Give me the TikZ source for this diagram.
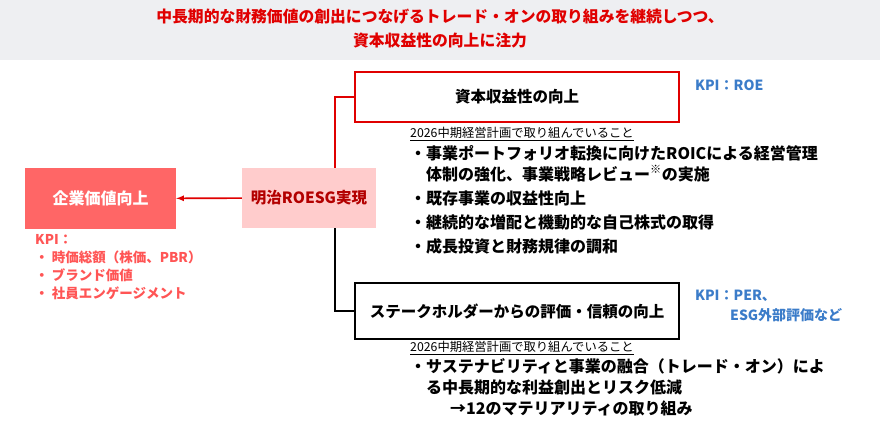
\documentclass[tikz,border=0pt]{standalone}
\usepackage{fontspec}
\setmainfont{Noto Sans CJK JP}
\usepackage{tikz}
\usetikzlibrary{positioning}
\definecolor{titlered}{HTML}{E00000}
\definecolor{valuered}{HTML}{FF6666}
\definecolor{roesgpink}{HTML}{FFCCCC}
\definecolor{kpiblue}{HTML}{3B7CC9}
\definecolor{kpired}{HTML}{FF5555}
\definecolor{bandgray}{HTML}{EEEFF2}
\tikzstyle{goalbox} = [rectangle, line width=1.6pt, minimum width=324pt, minimum height=50pt, font=\fontsize{15.5}{18}\selectfont\bfseries, fill=white]
\tikzstyle{link} = [draw, line width=1.6pt]
\tikzstyle{listtext} = [anchor=north west, align=left, inner sep=0pt, font=\fontsize{16}{21}\selectfont\bfseries]
\tikzstyle{plantext} = [anchor=north west, inner sep=0pt, font=\fontsize{12.3}{14}\selectfont]

\begin{document}
\begin{tikzpicture}[x=1pt, y=-1pt]
    \useasboundingbox (0,0) rectangle (880,431);
    \fill[bandgray] (0,0) rectangle (880,60);
    \node [align=center, text=titlered, font=\fontsize{15.8}{24}\selectfont\bfseries] (title) at (440,29)
        {中長期的な財務価値の創出につなげるトレード・オンの取り組みを継続しつつ、\\資本収益性の向上に注力};

    \node [rectangle, fill=valuered, text=white, minimum width=151pt, minimum height=61pt, font=\fontsize{16}{18}\selectfont\bfseries] (value) at (100.5,198.5) {企業価値向上};
    \node [rectangle, fill=roesgpink, text=titlered!80!black, minimum width=134pt, minimum height=60pt, inner sep=0pt, font=\fontsize{15.5}{18}\selectfont\bfseries] (roesg) at (309,198) {明治ROESG実現};
    \node [goalbox, draw=titlered] (capital) at (517,97) {資本収益性の向上};
    \node [goalbox, draw=black, minimum height=56pt] (trust) at (517,311) {ステークホルダーからの評価・信頼の向上};

    \path [link, titlered, -latex] (roesg) -- (value);
    \path [link, titlered] (roesg.north -| 335,0) |- (capital.west);
    \path [link, black] (roesg.south -| 335,0) |- (trust.west);

    % KPI notes
    \node [anchor=north west, align=left, inner sep=0pt, text=kpired, font=\fontsize{13.5}{18}\selectfont\bfseries] (valuekpi) at (35,234)
        {KPI：\\・ 時価総額（株価、PBR）\\・ ブランド価値\\・ 社員エンゲージメント};
    \node [anchor=west, inner sep=0pt, text=kpiblue, font=\fontsize{14}{16}\selectfont\bfseries] (roekpi) at (695,85) {KPI：ROE};
    \node [anchor=north west, align=left, inner sep=0pt, text=kpiblue, font=\fontsize{14}{20}\selectfont\bfseries] (perkpi) at (695,290) {KPI：PER、\\\hspace*{35pt}ESG外部評価など};

    % plans
    \node [plantext] (plan1) at (410,127) {\underline{2026中期経営計画で取り組んでいること}};
    \node [listtext] (list1) at (410,145)
        {・事業ポートフォリオ転換に向けたROICによる経営管理\\\hspace*{1em}体制の強化、事業戦略レビュー\textsuperscript{※}の実施\\[3pt]
         ・既存事業の収益性向上\\[3pt]・継続的な増配と機動的な自己株式の取得\\[3pt]・成長投資と財務規律の調和};
    \node [plantext] (plan2) at (410,341) {\underline{2026中期経営計画で取り組んでいること}};
    \node [listtext] (list2) at (410,358)
        {・サステナビリティと事業の融合（トレード・オン）によ\\\hspace*{1em}る中長期的な利益創出とリスク低減\\\hspace*{2.5em}→12のマテリアリティの取り組み};
\end{tikzpicture}
\end{document}
